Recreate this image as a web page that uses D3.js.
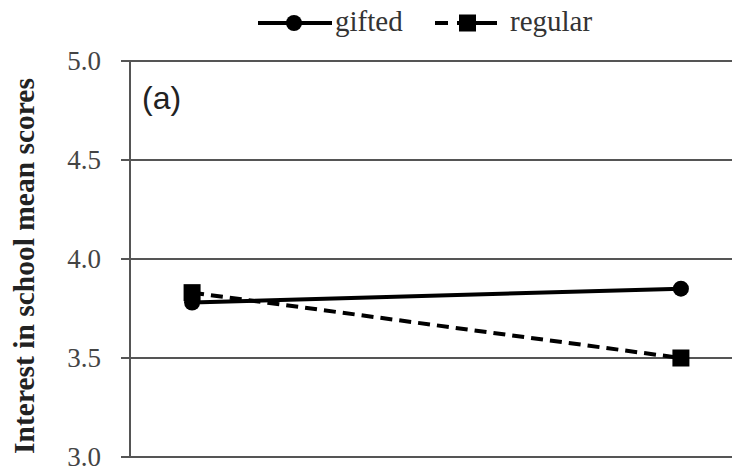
<!DOCTYPE html>
<html>
<head>
<meta charset="utf-8">
<script src="https://cdn.jsdelivr.net/npm/d3@7"></script>
<style>
  body { margin: 0; background: #fff; }
  svg { display: block; }
  .serif { font-family: "Liberation Serif", "Times New Roman", "DejaVu Serif", serif; }
  .sans { font-family: "Liberation Sans", Arial, sans-serif; }
</style>
</head>
<body>
<svg id="chart" width="732" height="470"></svg>
<script>
// data
var categories = ["Time 1", "Time 2"]
var gifted = [3.78, 3.85]
var regular = [3.83, 3.50]
var yTicks = [3.0, 3.5, 4.0, 4.5, 5.0]

var svg = d3.select("#chart")
var width = 732, height = 470
var margin = { top: 61, right: 0, bottom: 12, left: 130 }

var x = d3.scalePoint()
  .domain(categories)
  .range([margin.left, 743])
  .padding(0.127)

var y = d3.scaleLinear()
  .domain([3, 5])
  .range([height - margin.bottom - 1, margin.top])

// gridlines
svg.append("g")
  .selectAll("line")
  .data(yTicks)
  .enter()
  .append("line")
  .attr("x1", margin.left - 9)
  .attr("x2", width)
  .attr("y1", (d) => y(d))
  .attr("y2", (d) => y(d))
  .attr("stroke", "#555")
  .attr("stroke-width", 2)

// y axis line
svg.append("line")
  .attr("x1", margin.left)
  .attr("x2", margin.left)
  .attr("y1", y(5))
  .attr("y2", y(3))
  .attr("stroke", "#555")
  .attr("stroke-width", 2)

// tick labels
svg.append("g")
  .selectAll("text")
  .data(yTicks)
  .enter()
  .append("text")
  .attr("class", "serif")
  .attr("x", 101)
  .attr("y", (d) => y(d))
  .attr("dy", "0.35em")
  .attr("text-anchor", "end")
  .attr("font-size", 27)
  .attr("fill", "#444")
  .text((d) => d.toFixed(1))

// axis title
svg.append("text")
  .attr("class", "serif")
  .attr("transform", "translate(34," + (y(4) + 7) + ") rotate(-90)")
  .attr("text-anchor", "middle")
  .attr("font-weight", "bold")
  .attr("font-size", 29.5)
  .attr("fill", "#222")
  .text("Interest in school mean scores")

// panel label
svg.append("text")
  .attr("class", "sans")
  .attr("x", 142)
  .attr("y", 109)
  .attr("font-size", 32)
  .attr("fill", "#222")
  .text("(a)")

var line = d3.line()
  .x((d, i) => x(categories[i]))
  .y((d) => y(d))

// regular (dashed, squares)
svg.append("path")
  .datum(regular)
  .attr("d", line)
  .attr("fill", "none")
  .attr("stroke", "#000")
  .attr("stroke-width", 4)
  .attr("stroke-dasharray", "12,7")

svg.append("g")
  .selectAll("rect")
  .data(regular)
  .enter()
  .append("rect")
  .attr("x", (d, i) => x(categories[i]) - 8.5)
  .attr("y", (d) => y(d) - 8.5)
  .attr("width", 17)
  .attr("height", 17)
  .attr("fill", "#000")

// gifted (solid, circles)
svg.append("path")
  .datum(gifted)
  .attr("d", line)
  .attr("fill", "none")
  .attr("stroke", "#000")
  .attr("stroke-width", 4)

svg.append("g")
  .selectAll("circle")
  .data(gifted)
  .enter()
  .append("circle")
  .attr("cx", (d, i) => x(categories[i]))
  .attr("cy", (d) => y(d))
  .attr("r", 8)
  .attr("fill", "#000")

// legend
var legend = svg.append("g")
legend.append("line")
  .attr("x1", 258).attr("x2", 332)
  .attr("y1", 23).attr("y2", 23)
  .attr("stroke", "#000").attr("stroke-width", 4)
legend.append("circle")
  .attr("cx", 294).attr("cy", 23).attr("r", 8)
  .attr("fill", "#000")
legend.append("text")
  .attr("class", "serif")
  .attr("x", 335).attr("y", 31)
  .attr("font-size", 29)
  .attr("fill", "#333")
  .text("gifted")

legend.append("line")
  .attr("x1", 435).attr("x2", 497)
  .attr("y1", 23).attr("y2", 23)
  .attr("stroke", "#000").attr("stroke-width", 4)
  .attr("stroke-dasharray", "13,9,40")
legend.append("rect")
  .attr("x", 459).attr("y", 14.5).attr("width", 17).attr("height", 17)
  .attr("fill", "#000")
legend.append("text")
  .attr("class", "serif")
  .attr("x", 510).attr("y", 31)
  .attr("font-size", 29)
  .attr("fill", "#333")
  .text("regular")
</script>
</body>
</html>
